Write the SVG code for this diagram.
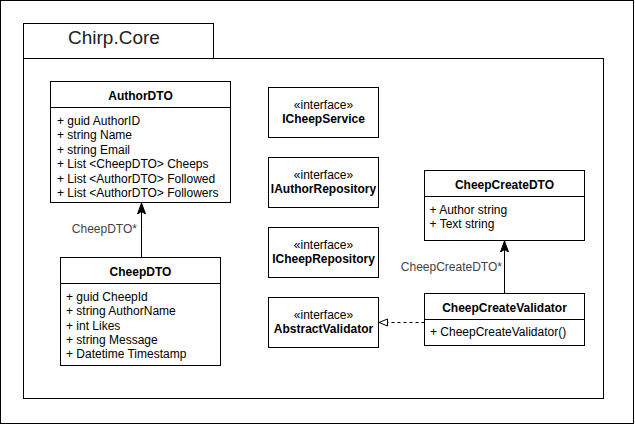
<svg xmlns="http://www.w3.org/2000/svg" width="635" height="425" viewBox="0 0 635 425">
<defs>
<style>
rect,line,path{fill:none;stroke:#000;stroke-width:1}
.box{fill:#fff}
text{font-family:"Liberation Sans",Arial,Helvetica,sans-serif;font-size:12px;fill:#000}
.h{font-weight:bold;text-anchor:middle}
.c{text-anchor:middle}
.lbl{fill:#444;text-anchor:end}
.pkg{font-size:19px;fill:#222}
</style>
<marker id="classic" viewBox="0 0 12 10" refX="11" refY="5" markerWidth="12" markerHeight="10" markerUnits="userSpaceOnUse" orient="auto">
<path d="M0,1 L11,5 L0,9 L2.5,5 Z" style="fill:#000;stroke:#000;stroke-width:1"/>
</marker>
<marker id="hollow" viewBox="0 0 10 9" refX="9.5" refY="4.5" markerWidth="10" markerHeight="9" markerUnits="userSpaceOnUse" orient="auto">
<path d="M1,1 L9.5,4.5 L1,8 Z" style="fill:#fff;stroke:#000;stroke-width:1"/>
</marker>
</defs>
<rect x="0.5" y="0.5" width="633" height="423" class="box"/>
<g id="package">
<rect x="23.5" y="23.5" width="190" height="35" class="box"/>
<rect x="23.5" y="58.5" width="580" height="340" class="box"/>
<text x="68" y="44" class="pkg">Chirp.Core</text>
</g>
<g id="AuthorDTO">
<rect x="50.5" y="81.5" width="180" height="121" class="box"/>
<line x1="50.5" y1="107.5" x2="230.5" y2="107.5"/>
<text x="140.5" y="99.5" class="h">AuthorDTO</text>
<text x="57" y="125">+ guid AuthorID</text>
<text x="57" y="139.4">+ string Name</text>
<text x="57" y="153.8">+ string Email</text>
<text x="57" y="168.2">+ List &lt;CheepDTO&gt; Cheeps</text>
<text x="57" y="182.6">+ List &lt;AuthorDTO&gt; Followed</text>
<text x="57" y="197">+ List &lt;AuthorDTO&gt; Followers</text>
</g>
<g id="CheepDTO">
<rect x="60.5" y="257.5" width="160" height="108" class="box"/>
<line x1="60.5" y1="283.5" x2="220.5" y2="283.5"/>
<text x="140.5" y="276" class="h">CheepDTO</text>
<text x="66" y="300.8">+ guid CheepId</text>
<text x="66" y="315.2">+ string AuthorName</text>
<text x="66" y="329.6">+ int Likes</text>
<text x="66" y="344">+ string Message</text>
<text x="66" y="358.4">+ Datetime Timestamp</text>
</g>
<g id="ICheepService">
<rect x="268.5" y="87.5" width="110" height="50" class="box"/>
<text x="323.5" y="109" class="c">«interface»</text>
<text x="323.5" y="123" class="h">ICheepService</text>
</g>
<g id="IAuthorRepository">
<rect x="268.5" y="157.5" width="110" height="50" class="box"/>
<text x="323.5" y="179" class="c">«interface»</text>
<text x="323.5" y="193" class="h">IAuthorRepository</text>
</g>
<g id="ICheepRepository">
<rect x="268.5" y="227.5" width="110" height="50" class="box"/>
<text x="323.5" y="249" class="c">«interface»</text>
<text x="323.5" y="263" class="h">ICheepRepository</text>
</g>
<g id="AbstractValidator">
<rect x="268.5" y="297.5" width="110" height="50" class="box"/>
<text x="323.5" y="319" class="c">«interface»</text>
<text x="323.5" y="333" class="h">AbstractValidator</text>
</g>
<g id="CheepCreateDTO">
<rect x="424.5" y="170.5" width="160" height="70" class="box"/>
<line x1="424.5" y1="196.5" x2="584.5" y2="196.5"/>
<text x="504.5" y="189" class="h">CheepCreateDTO</text>
<text x="429.5" y="213.5">+ Author string</text>
<text x="429.5" y="227.9">+ Text string</text>
</g>
<g id="CheepCreateValidator">
<rect x="424.5" y="293.5" width="160" height="52" class="box"/>
<line x1="424.5" y1="319.5" x2="584.5" y2="319.5"/>
<text x="504.5" y="311.5" class="h">CheepCreateValidator</text>
<text x="430" y="336">+ CheepCreateValidator()</text>
</g>
<g id="connectors">
<line x1="141.5" y1="257.5" x2="141.5" y2="203" marker-end="url(#classic)"/>
<text x="137" y="233" class="lbl">CheepDTO*</text>
<line x1="504.5" y1="293.5" x2="504.5" y2="241" marker-end="url(#classic)"/>
<text x="502" y="271" class="lbl">CheepCreateDTO*</text>
<line x1="424.5" y1="322.5" x2="379" y2="322.5" stroke-dasharray="3 3" marker-end="url(#hollow)"/>
</g>
</svg>
